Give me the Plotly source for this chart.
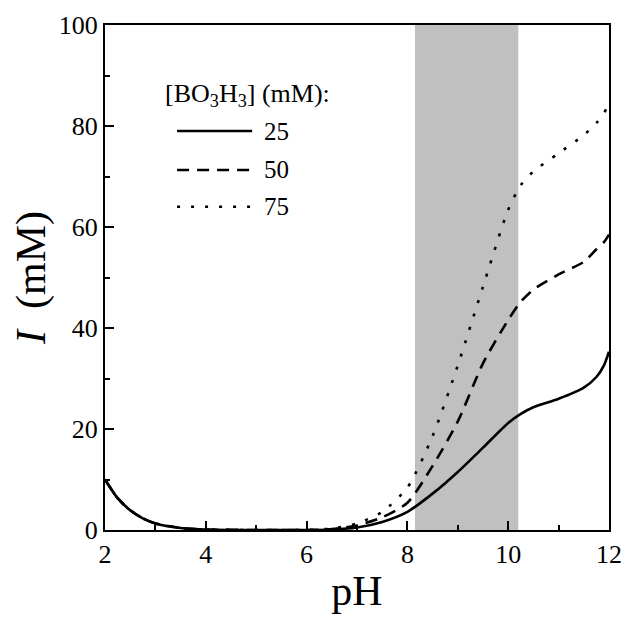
import plotly.graph_objects as go

# ---- data ----
ph = [2, 2.25, 2.5, 2.75, 3, 3.5, 4, 5, 6, 6.5, 7, 7.5, 8, 8.5, 9, 9.5, 10, 10.25, 10.5, 11, 11.5, 11.75, 11.9, 12]
i_25 = [10, 6.3, 3.9, 2.3, 1.3, 0.4, 0.1, 0, 0, 0.1, 0.5, 1.6, 3.6, 7.2, 11.5, 16.3, 21.2, 23.0, 24.3, 26.0, 28.2, 30.3, 32.6, 35.3]
i_50 = [10, 6.3, 3.9, 2.3, 1.3, 0.4, 0.1, 0, 0, 0.2, 0.9, 2.5, 5.4, 12.7, 21.5, 33.0, 41.6, 45.2, 47.6, 50.6, 53.1, 55.6, 57.0, 58.5]
i_75 = [10, 6.3, 3.9, 2.3, 1.3, 0.4, 0.1, 0, 0, 0.3, 1.3, 3.6, 8.4, 18.6, 32.6, 48.2, 63.4, 68.3, 71.0, 74.6, 78.2, 80.6, 82.5, 84.8]
series_names = ["25", "50", "75"]
shade_range = [8.15, 10.2]
x_ticks = [2, 4, 6, 8, 10, 12]
y_ticks = [0, 20, 40, 60, 80, 100]

FONT = "Liberation Serif"
dashes = ["solid", "12px,8px", "3px,11px"]

fig = go.Figure()
for ys, nm, ds in zip([i_25, i_50, i_75], series_names, dashes):
    fig.add_trace(go.Scatter(
        x=ph, y=ys, mode="lines", name=nm, showlegend=False,
        line=dict(color="black", width=2.6, dash=ds, shape="spline", smoothing=0.7),
    ))

# shaded pH window
fig.add_shape(type="rect", xref="x", yref="paper", x0=shade_range[0], x1=shade_range[1],
              y0=0, y1=1, fillcolor="#c0c0c0", line=dict(width=0), layer="below")

# manual legend
fig.add_annotation(xref="paper", yref="paper", x=0.116, y=0.862, xanchor="left", yanchor="middle",
                   text="[BO<sub>3</sub>H<sub>3</sub>] (mM):", showarrow=False,
                   font=dict(family=FONT, size=26, color="black"))
leg_y = [0.790, 0.713, 0.640]
for ly, nm, ds in zip(leg_y, series_names, dashes):
    fig.add_shape(type="line", xref="paper", yref="paper", x0=0.143, x1=0.292, y0=ly, y1=ly,
                  line=dict(color="black", width=2.6, dash=ds))
    fig.add_annotation(xref="paper", yref="paper", x=0.312, y=ly, xanchor="left", yanchor="middle",
                       text=nm, showarrow=False, font=dict(family=FONT, size=25, color="black"))

axis_common = dict(
    automargin=False,
    showgrid=False, zeroline=False, showline=True, linecolor="black", linewidth=2,
    mirror=True, ticks="inside", ticklen=9, tickwidth=2, tickcolor="black",
    tickfont=dict(family=FONT, size=26, color="black"),
    minor=dict(ticks="inside", ticklen=5, tickwidth=1.5, tickcolor="black"),
)
fig.update_xaxes(range=[2, 12], tickvals=x_ticks, minor_dtick=1,
                 title=dict(text="pH", font=dict(family=FONT, size=42, color="black"), standoff=7),
                 **axis_common)
fig.update_yaxes(range=[0, 100], tickvals=y_ticks, minor_dtick=10,
                 title=dict(text="<i>I</i>  (mM)", font=dict(family=FONT, size=42, color="black"), standoff=10),
                 **axis_common)

fig.update_layout(
    width=621, height=606,
    margin=dict(l=97, r=20, t=17, b=84),
    paper_bgcolor="white", plot_bgcolor="white",
    font=dict(family=FONT, color="black"),
)
fig.write_html("out.html")
